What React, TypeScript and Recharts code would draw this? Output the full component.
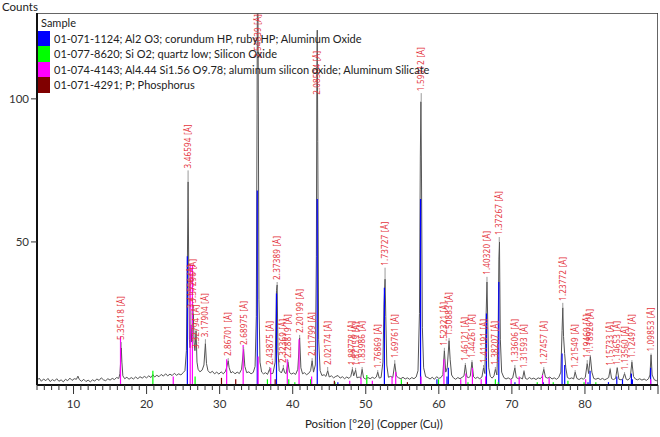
import React from 'react';
import { ComposedChart, Line, Scatter, XAxis, YAxis, ReferenceLine, ReferenceArea } from 'recharts';

// measured pattern: [2theta, counts]
const PATTERN: [number, number][] = [
  [5.0, 1.6], [5.3, 2.4], [5.6, 1.3], [5.9, 2.1], [6.2, 1.5], [6.5, 2.3], [6.8, 1.2], [7.1, 1.9], [7.4, 1.4], [7.7, 2.2],
  [8.0, 1.3], [8.3, 1.8], [8.6, 1.1], [8.9, 2.0], [9.2, 1.5], [9.5, 2.4], [9.8, 1.6], [10.1, 2.2], [10.4, 2.0], [10.6, 3.1],
  [10.8, 1.9], [11.1, 1.3], [11.4, 2.0], [11.7, 1.2], [12.0, 1.7], [12.3, 1.1], [12.6, 1.8], [12.9, 1.4], [13.2, 2.1], [13.5, 1.6],
  [13.8, 2.5], [14.1, 1.8], [14.4, 1.5], [14.7, 2.2], [15.0, 1.7], [15.3, 2.3], [15.6, 1.9], [15.9, 2.6], [16.2, 2.3],
  [16.35, 4.0], [16.47, 9.0], [16.54, 13.0], [16.62, 8.0], [16.75, 3.2],
  [17.0, 2.2], [17.3, 2.7], [17.6, 2.0], [17.9, 2.6], [18.2, 2.1], [18.5, 2.8], [18.8, 2.2], [19.1, 2.9], [19.4, 2.4], [19.7, 3.0],
  [20.0, 2.5], [20.3, 3.2], [20.6, 2.6], [20.86, 3.6], [21.1, 2.8], [21.4, 3.4], [21.7, 2.9], [22.0, 3.7], [22.3, 3.1], [22.6, 3.9],
  [22.9, 3.2], [23.2, 3.8], [23.5, 3.3], [23.8, 4.1], [24.1, 3.4], [24.4, 3.9], [24.7, 3.5], [25.0, 4.3], [25.25, 5.0], [25.45, 12],
  [25.58, 42], [25.68, 71], [25.76, 44], [25.86, 16], [25.95, 13], [26.07, 21], [26.18, 15], [26.28, 18], [26.4, 25], [26.5, 15],
  [26.62, 12], [26.77, 19], [26.9, 8], [27.05, 5.5], [27.3, 4.6], [27.6, 5.2], [27.85, 7], [28.05, 14.5], [28.2, 7.5], [28.4, 5],
  [28.7, 4.2], [29.0, 4.8], [29.3, 3.9], [29.6, 4.5], [29.9, 3.8], [30.2, 4.6], [30.5, 3.9], [30.8, 4.8], [31.0, 6.5], [31.17, 8.5],
  [31.3, 6], [31.55, 4.2], [31.8, 4.7], [32.1, 3.9], [32.4, 4.5], [32.7, 4.0], [33.0, 5.5], [33.28, 12.5], [33.45, 6.5], [33.7, 4.3],
  [34.0, 4.6], [34.3, 3.9], [34.6, 4.4], [34.85, 6.5], [35.02, 24], [35.12, 95], [35.19, 160], [35.28, 110], [35.38, 30], [35.52, 8],
  [35.75, 4.5], [36.0, 3.9], [36.3, 4.3], [36.55, 3.7], [36.83, 5.5], [37.0, 3.9], [37.3, 4.1], [37.6, 8], [37.78, 33], [37.87, 35],
  [37.98, 12], [38.15, 5], [38.45, 4.2], [38.72, 6], [38.9, 4.3], [39.1, 4.0], [39.35, 8], [39.55, 4.5], [39.8, 3.8], [40.1, 4.2],
  [40.4, 3.7], [40.7, 5.5], [40.95, 16.5], [41.12, 6], [41.35, 3.9], [41.6, 4.3], [41.9, 3.6], [42.2, 4.1], [42.45, 5], [42.66, 8.5],
  [42.85, 4.5], [43.1, 7], [43.24, 45], [43.31, 110], [43.36, 124], [43.43, 85], [43.55, 16], [43.75, 5], [44.0, 3.3], [44.3, 3.6],
  [44.55, 3.0], [44.79, 5], [45.0, 2.8], [45.3, 3.2], [45.6, 2.5], [45.9, 3.0], [46.2, 3.3], [46.5, 2.4], [46.8, 2.9], [47.1, 2.2],
  [47.4, 2.8], [47.7, 2.3], [47.95, 3.0], [48.17, 5.5], [48.35, 3.2], [48.61, 5.2], [48.8, 2.5], [49.1, 2.8], [49.3, 2.3], [49.5, 5.5],
  [49.7, 2.5], [50.0, 2.1], [50.3, 2.6], [50.6, 2.2], [50.9, 2.7], [51.2, 2.3], [51.45, 2.8], [51.64, 4.5], [51.85, 2.4], [52.1, 2.6],
  [52.35, 8], [52.5, 28], [52.64, 37], [52.74, 24], [52.88, 7], [53.1, 2.7], [53.4, 3.0], [53.7, 2.6], [53.97, 7.5], [54.2, 3.1],
  [54.5, 2.5], [54.8, 2.2], [55.1, 2.7], [55.4, 2.1], [55.7, 2.5], [56.0, 2.0], [56.3, 2.6], [56.6, 2.2], [56.9, 2.8], [57.15, 5],
  [57.35, 25], [57.47, 80], [57.55, 99], [57.63, 72], [57.75, 20], [57.92, 6], [58.2, 2.9], [58.5, 2.6], [58.8, 2.1], [59.1, 2.7],
  [59.4, 2.0], [59.7, 2.9], [60.0, 2.3], [60.3, 2.6], [60.55, 3.6], [60.76, 12], [60.95, 4.5], [61.15, 6], [61.4, 15.5], [61.55, 9],
  [61.75, 3.5], [62.0, 2.5], [62.3, 2.0], [62.6, 2.6], [62.9, 2.2], [63.2, 2.7], [63.45, 3.2], [63.63, 7], [63.85, 2.8], [64.1, 2.6],
  [64.3, 3.0], [64.54, 8], [64.75, 2.9], [65.0, 2.3], [65.3, 2.7], [65.6, 2.2], [65.9, 2.8], [66.12, 6], [66.3, 4.0], [66.47, 24],
  [66.59, 36], [66.69, 23], [66.83, 6], [67.05, 3.0], [67.3, 2.4], [67.55, 3.2], [67.74, 5.5], [67.95, 3.5], [68.12, 18], [68.22, 44],
  [68.3, 50], [68.42, 16], [68.6, 4.5], [68.9, 2.6], [69.2, 2.1], [69.5, 2.5], [69.8, 2.0], [70.1, 2.4], [70.41, 6], [70.6, 2.6],
  [70.9, 2.2], [71.2, 2.5], [71.45, 2.1], [71.66, 4.8], [71.85, 2.3], [72.1, 2.0], [72.4, 2.6], [72.7, 2.1], [73.0, 2.4], [73.3, 1.9],
  [73.6, 2.5], [73.9, 2.2], [74.15, 3.0], [74.37, 5.5], [74.6, 2.7], [74.9, 2.4], [75.2, 2.8], [75.5, 2.1], [75.8, 2.5], [76.1, 2.0],
  [76.4, 2.6], [76.7, 4.5], [76.87, 19], [76.97, 27], [77.07, 17], [77.22, 11], [77.38, 6], [77.6, 2.6], [77.9, 2.2], [78.2, 2.5],
  [78.45, 2.1], [78.66, 4.5], [78.9, 2.3], [79.2, 1.9], [79.5, 2.4], [79.8, 2.0], [80.05, 2.7], [80.31, 7.5], [80.5, 4.0], [80.74, 10],
  [80.95, 4.5], [81.2, 2.3], [81.5, 2.0], [81.8, 2.4], [82.1, 1.9], [82.4, 2.3], [82.7, 1.8], [83.0, 2.2], [83.25, 2.6], [83.45, 5.5],
  [83.65, 2.2], [83.9, 1.9], [84.2, 2.3], [84.42, 6], [84.65, 2.0], [84.95, 1.8], [85.2, 2.2], [85.42, 4], [85.65, 2.0], [85.9, 1.7],
  [86.2, 2.6], [86.43, 8], [86.65, 3.0], [86.9, 2.1], [87.2, 1.8], [87.5, 2.2], [87.8, 1.7], [88.1, 2.1], [88.4, 1.6], [88.7, 2.2],
  [88.9, 3.5], [89.05, 10.5], [89.2, 3.5], [89.5, 1.8], [89.8, 1.5], [90.0, 1.8],
];

// reference sticks: [2theta, height]
const CORUNDUM_STICKS: [number, number][] = [
  [25.58, 45], [35.15, 68], [37.78, 32], [43.36, 65], [46.18, 1], [52.55, 34], [57.5, 65], [59.74, 2], [61.12, 3], [61.3, 6],
  [66.52, 25], [68.21, 36], [70.42, 1], [74.3, 1], [76.87, 11], [77.23, 7], [80.42, 1], [80.7, 5], [83.22, 1], [84.36, 3],
  [85.14, 2], [86.36, 4], [86.5, 2], [88.99, 6],
];
const QUARTZ_STICKS: [number, number][] = [
  [20.86, 5], [26.64, 3], [36.54, 2], [39.46, 2], [40.29, 1], [42.45, 2], [45.79, 1], [50.14, 3.5], [54.87, 2], [59.96, 2],
  [63.99, 1], [67.74, 2], [68.14, 1], [73.47, 1], [75.66, 1], [77.67, 1.5], [79.88, 1], [81.49, 1],
];
const MULLITE_STICKS: [number, number][] = [
  [16.43, 17], [23.65, 3], [25.97, 42], [26.27, 42], [30.96, 9], [33.22, 14], [35.27, 10], [36.99, 6], [39.26, 9], [40.87, 16],
  [42.59, 3], [47.8, 1.5], [49.35, 2.5], [50.9, 1.5], [53.6, 3], [54.1, 4.5], [57.56, 3], [60.7, 9], [63.0, 2], [63.7, 4],
  [64.6, 6], [65.8, 2], [66.4, 3], [69.9, 2], [71.0, 3], [74.2, 3.5], [75.1, 2.5], [80.1, 2], [89.0, 2],
];
const PHOSPHORUS_STICKS: [number, number][] = [
  [30.25, 2.5], [32.2, 2], [37.6, 2], [45.7, 1.5], [55.7, 1],
];

// peak labels: [2theta, d-spacing, peak top, label base]
const PEAK_LABELS: [number, string, number, number][] = [
  [16.54, '5.35418', 13, 15], [25.68, '3.46594', 71, 75], [26.07, '3.41556', 21, 26], [26.4, '3.37296', 25, 28],
  [26.77, '3.32794', 19, 12], [28.05, '3.17904', 14.5, 16], [31.17, '2.86701', 8.5, 9.4], [33.28, '2.68975', 12.5, 13.3],
  [35.19, '2.54839', 160, 113.5], [36.83, '2.43875', 5.5, 6.3], [37.87, '2.37389', 35, 36], [38.72, '2.32369', 6, 7],
  [39.35, '2.28819', 8, 8.7], [40.95, '2.20199', 16.5, 17.5], [42.66, '2.11799', 8.5, 9.4], [43.36, '2.08504', 124, 100.7],
  [44.79, '2.02174', 5, 6.3], [48.17, '1.88778', 5.5, 6.3], [48.61, '1.87159', 5.2, 6], [49.5, '1.83986', 5.5, 6.3],
  [51.64, '1.76869', 4.5, 5.2], [52.64, '1.73727', 37, 41], [53.97, '1.69761', 7.5, 8.7], [57.59, '1.59912', 99, 102],
  [60.76, '1.52321', 12, 13], [61.4, '1.50883', 15.5, 16.4], [63.63, '1.46121', 7, 7.7], [64.54, '1.44261', 8, 8.7],
  [66.12, '1.41191', 6, 7], [66.59, '1.40320', 36, 37.8], [67.74, '1.38207', 5.5, 6.3], [68.27, '1.37267', 50, 51.7],
  [70.41, '1.33606', 6, 7], [71.66, '1.31593', 4.8, 5.2], [74.37, '1.27457', 5.5, 6.3], [76.97, '1.23772', 27, 28.7],
  [78.66, '1.21549', 4.5, 5.2], [80.31, '1.19460', 7.5, 8.7], [80.74, '1.18926', 10, 10.5], [83.45, '1.15733', 5.5, 6],
  [84.42, '1.14653', 6, 6.3], [85.42, '1.13560', 4, 4.5], [86.43, '1.12497', 8, 8.7], [89.05, '1.09853', 10.5, 11],
];

const PHASE_NAMES = [
  '01-071-1124; Al2 O3; corundum HP, ruby HP; Aluminum Oxide',
  '01-077-8620; Si O2; quartz low; Silicon Oxide',
  '01-074-4143; Al4.44 Si1.56 O9.78; aluminum silicon oxide; Aluminum Silicate',
  '01-071-4291; P; Phosphorus',
];
const PHASE_COLORS = ['#0000ff', '#00ff00', '#ff00ff', '#800000'];
const PHASE_STICKS = [CORUNDUM_STICKS, QUARTZ_STICKS, MULLITE_STICKS, PHOSPHORUS_STICKS];

const Y_TICKS = [50, 100];
const X_LABELED = [10, 20, 30, 40, 50, 60, 70, 80];
const X_TICKS = Array.from({ length: 86 }, (_, i) => 5 + i);

const FONT = 'Lato, "Noto Sans", sans-serif';
const LABEL_FONT = '"Noto Sans", "Open Sans", sans-serif';
const LABEL_RED = '#e4343c';

const patternData = PATTERN.map(([x, y]) => ({ x, y }));
const labelData = PEAK_LABELS.map(([x, d, peak, base]) => ({ x, y: base, d, peak }));

const XTick = (props: any) => {
  const { x, y, payload } = props;
  const v = payload.value;
  const major = v % 10 === 0;
  return (
    <g>
      <line x1={x} x2={x} y1={y} y2={y + (major ? 9 : 5)} stroke="#333" strokeWidth={1} />
      {X_LABELED.includes(v) && (
        <text x={x} y={y + 23} textAnchor="middle" fontSize={11.5} fill="#333" fontFamily={FONT}>
          {v}
        </text>
      )}
    </g>
  );
};

const renderPeakLabel = (props: any) => {
  const { cx, cy, payload } = props;
  if (cx == null || cy == null) return <g />;
  return (
    <text
      x={cx}
      y={cy}
      dx={2}
      dy={3}
      transform={`rotate(-90 ${cx} ${cy})`}
      fontSize={8}
      fill={LABEL_RED}
      fontFamily={LABEL_FONT}
      letterSpacing={0.2}
    >
      {payload.d} [Å]
    </text>
  );
};

export default function App() {
  return (
    <div style={{ position: 'absolute', left: 0, top: 0, width: 660, height: 437, background: '#fff', fontFamily: FONT }}>
      <ComposedChart width={660} height={437} margin={{ top: 13, right: 2, left: 0, bottom: 0 }}>
        <XAxis
          type="number"
          dataKey="x"
          domain={[5, 90]}
          allowDataOverflow
          ticks={X_TICKS}
          interval={0}
          tick={<XTick />}
          tickLine={false}
          tickSize={0}
          tickMargin={0}
          axisLine={{ stroke: '#111', strokeWidth: 2 }}
          height={52}
        />
        <YAxis
          type="number"
          dataKey="y"
          domain={[0, 130]}
          allowDataOverflow
          ticks={Y_TICKS}
          width={37}
          tickSize={6}
          tickLine={{ stroke: '#333' }}
          axisLine={{ stroke: '#111', strokeWidth: 2 }}
          tick={{ fontSize: 11.5, fill: '#333', fontFamily: FONT }}
        />
        <ReferenceArea x1={5} x2={90} y1={0} y2={130} fill="none" stroke="#333" strokeWidth={1.5} ifOverflow="hidden" />
        <Line
          data={patternData}
          dataKey="y"
          type="linear"
          dot={false}
          stroke="#555"
          strokeWidth={1}
          isAnimationActive={false}
        />
        {PHASE_STICKS.map((sticks, p) =>
          sticks.map(([t, h], i) => (
            <ReferenceLine
              key={`s${p}-${i}`}
              segment={[{ x: t, y: 0 }, { x: t, y: h }]}
              stroke={PHASE_COLORS[p]}
              strokeWidth={1.2}
              ifOverflow="hidden"
            />
          ))
        )}
        {labelData
          .filter((l) => l.y > l.peak)
          .map((l, i) => (
            <ReferenceLine
              key={`lead${i}`}
              segment={[{ x: l.x, y: l.peak }, { x: l.x, y: l.y }]}
              stroke="#999"
              strokeWidth={1}
              ifOverflow="hidden"
            />
          ))}
        <Scatter data={labelData} dataKey="y" shape={renderPeakLabel} isAnimationActive={false} />
      </ComposedChart>

      <div style={{ position: 'absolute', left: 2, top: 0, fontSize: 11.5, color: '#222' }}>Counts</div>

      <div style={{ position: 'absolute', left: 38, top: 15, fontSize: 11, color: '#222', lineHeight: '15.5px' }}>
        <div style={{ paddingLeft: 3 }}>Sample</div>
        {PHASE_NAMES.map((name, i) => (
          <div key={name} style={{ display: 'flex', alignItems: 'center' }}>
            <span style={{ display: 'inline-block', width: 12, height: 15.5, background: PHASE_COLORS[i], marginRight: 4 }} />
            <span style={{ whiteSpace: 'nowrap' }}>{name}</span>
          </div>
        ))}
      </div>

      <div style={{ position: 'absolute', left: 305, top: 417, fontSize: 11.5, color: '#222', whiteSpace: 'nowrap' }}>
        Position [°2θ] (Copper (Cu))
      </div>
    </div>
  );
}
